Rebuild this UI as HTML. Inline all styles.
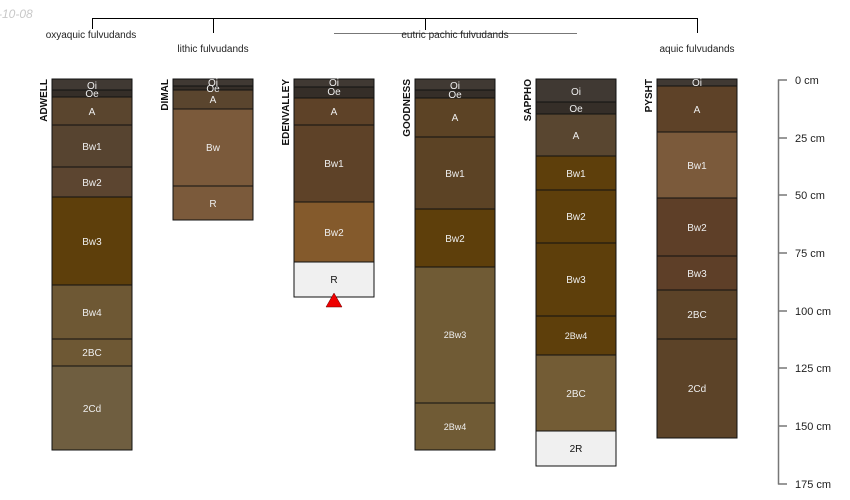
<!DOCTYPE html>
<html><head><meta charset="utf-8"><style>
html,body{margin:0;padding:0;background:#fff;width:850px;height:500px;overflow:hidden}
text{font-family:"Liberation Sans",sans-serif}
</style></head><body>
<svg width="850" height="500" xmlns="http://www.w3.org/2000/svg">
<text x="-2" y="18" font-size="12" font-style="italic" fill="#c8c8c8">-10-08</text>
<!-- dendrogram -->
<g stroke="#000" stroke-width="1" fill="none">
<path d="M92.5 29V18.5H697.5V33"/>
<path d="M213.5 18.5V33"/>
<path d="M425.5 18.5V30"/>
</g>
<line x1="334" y1="33.5" x2="577" y2="33.5" stroke="#777" stroke-width="1"/>
<g font-size="10" fill="#222" text-anchor="middle">
<text x="91" y="38">oxyaquic fulvudands</text>
<text x="213" y="52">lithic fulvudands</text>
<text x="455" y="38">eutric pachic fulvudands</text>
<text x="697" y="52">aquic fulvudands</text>
</g>
<g stroke="#111" stroke-width="1">
<!-- ADWELL -->
<rect x="52" y="79" width="80" height="11" fill="#403933"/>
<rect x="52" y="90" width="80" height="7" fill="#352e28"/>
<rect x="52" y="97" width="80" height="28" fill="#5a452e"/>
<rect x="52" y="125" width="80" height="42" fill="#574430"/>
<rect x="52" y="167" width="80" height="30" fill="#5c4530"/>
<rect x="52" y="197" width="80" height="88" fill="#5e3f0b"/>
<rect x="52" y="285" width="80" height="54" fill="#6e5834"/>
<rect x="52" y="339" width="80" height="27" fill="#6e5834"/>
<rect x="52" y="366" width="80" height="84" fill="#6f5e40"/>
<!-- DIMAL -->
<rect x="173" y="79" width="80" height="7" fill="#403933"/>
<rect x="173" y="86" width="80" height="4" fill="#352e28"/>
<rect x="173" y="90" width="80" height="19" fill="#5a452e"/>
<rect x="173" y="109" width="80" height="77" fill="#7b5a3b"/>
<rect x="173" y="186" width="80" height="34" fill="#7b5a3b"/>
<!-- EDENVALLEY -->
<rect x="294" y="79" width="80" height="8" fill="#403933"/>
<rect x="294" y="87" width="80" height="11" fill="#352e28"/>
<rect x="294" y="98" width="80" height="27" fill="#5e4228"/>
<rect x="294" y="125" width="80" height="77" fill="#5e4228"/>
<rect x="294" y="202" width="80" height="60" fill="#845a2c"/>
<rect x="294" y="262" width="80" height="35" fill="#f0f0f0"/>
<!-- GOODNESS -->
<rect x="415" y="79" width="80" height="11" fill="#403933"/>
<rect x="415" y="90" width="80" height="8" fill="#352e28"/>
<rect x="415" y="98" width="80" height="39" fill="#5c4325"/>
<rect x="415" y="137" width="80" height="72" fill="#5c4325"/>
<rect x="415" y="209" width="80" height="58" fill="#5e3f0b"/>
<rect x="415" y="267" width="80" height="136" fill="#705b35"/>
<rect x="415" y="403" width="80" height="47" fill="#705b35"/>
<!-- SAPPHO -->
<rect x="536" y="79" width="80" height="23" fill="#403933"/>
<rect x="536" y="102" width="80" height="12" fill="#352e28"/>
<rect x="536" y="114" width="80" height="42" fill="#594630"/>
<rect x="536" y="156" width="80" height="34" fill="#5e3f0b"/>
<rect x="536" y="190" width="80" height="53" fill="#5e3f0b"/>
<rect x="536" y="243" width="80" height="73" fill="#5e3f0b"/>
<rect x="536" y="316" width="80" height="39" fill="#5e3f0b"/>
<rect x="536" y="355" width="80" height="76" fill="#735c35"/>
<rect x="536" y="431" width="80" height="35" fill="#f0f0f0"/>
<!-- PYSHT -->
<rect x="657" y="79" width="80" height="7" fill="#403933"/>
<rect x="657" y="86" width="80" height="46" fill="#5e4228"/>
<rect x="657" y="132" width="80" height="66" fill="#7b5a3b"/>
<rect x="657" y="198" width="80" height="58" fill="#5e3f28"/>
<rect x="657" y="256" width="80" height="34" fill="#5e3f28"/>
<rect x="657" y="290" width="80" height="49" fill="#5c4328"/>
<rect x="657" y="339" width="80" height="99" fill="#5c4328"/>
</g>
<polygon points="334,293 326,307 342,307" fill="#e00" stroke="#600" stroke-width="0.5"/>
<g font-size="10" fill="#eee" text-anchor="middle">
<text x="92" y="89">Oi</text><text x="92" y="97">Oe</text><text x="92" y="115">A</text><text x="92" y="150">Bw1</text><text x="92" y="186">Bw2</text><text x="92" y="245">Bw3</text><text x="92" y="316">Bw4</text><text x="92" y="356">2BC</text><text x="92" y="412">2Cd</text>
<text x="213" y="86">Oi</text><text x="213" y="92">Oe</text><text x="213" y="103">A</text><text x="213" y="151">Bw</text><text x="213" y="207">R</text>
<text x="334" y="86">Oi</text><text x="334" y="95">Oe</text><text x="334" y="115">A</text><text x="334" y="167">Bw1</text><text x="334" y="236">Bw2</text><text x="334" y="283" fill="#111">R</text>
<text x="455" y="89">Oi</text><text x="455" y="98">Oe</text><text x="455" y="121">A</text><text x="455" y="177">Bw1</text><text x="455" y="242">Bw2</text><text x="455" y="338" font-size="9">2Bw3</text><text x="455" y="430" font-size="9">2Bw4</text>
<text x="576" y="95">Oi</text><text x="576" y="112">Oe</text><text x="576" y="139">A</text><text x="576" y="177">Bw1</text><text x="576" y="220">Bw2</text><text x="576" y="283">Bw3</text><text x="576" y="339" font-size="9">2Bw4</text><text x="576" y="397">2BC</text><text x="576" y="452" fill="#111">2R</text>
<text x="697" y="86">Oi</text><text x="697" y="113">A</text><text x="697" y="169">Bw1</text><text x="697" y="231">Bw2</text><text x="697" y="277">Bw3</text><text x="697" y="318">2BC</text><text x="697" y="392">2Cd</text>
</g>
<g font-size="10" font-weight="bold" fill="#111" text-anchor="end">
<text transform="translate(47,79) rotate(-90)">ADWELL</text>
<text transform="translate(168,79) rotate(-90)">DIMAL</text>
<text transform="translate(289,79) rotate(-90)">EDENVALLEY</text>
<text transform="translate(410,79) rotate(-90)">GOODNESS</text>
<text transform="translate(531,79) rotate(-90)">SAPPHO</text>
<text transform="translate(652,79) rotate(-90)">PYSHT</text>
</g>
<!-- scale -->
<g stroke="#777" stroke-width="1.5">
<line x1="778.5" y1="79.5" x2="778.5" y2="484.5"/>
<line x1="778" y1="80" x2="787" y2="80"/>
<line x1="778" y1="138" x2="787" y2="138"/>
<line x1="778" y1="195" x2="787" y2="195"/>
<line x1="778" y1="253" x2="787" y2="253"/>
<line x1="778" y1="311" x2="787" y2="311"/>
<line x1="778" y1="368" x2="787" y2="368"/>
<line x1="778" y1="426" x2="787" y2="426"/>
<line x1="778" y1="484" x2="787" y2="484"/>
</g>
<g font-size="11" fill="#222">
<text x="795" y="84">0 cm</text>
<text x="795" y="142">25 cm</text>
<text x="795" y="199">50 cm</text>
<text x="795" y="257">75 cm</text>
<text x="795" y="315">100 cm</text>
<text x="795" y="372">125 cm</text>
<text x="795" y="430">150 cm</text>
<text x="795" y="488">175 cm</text>
</g>
</svg>
</body></html>
